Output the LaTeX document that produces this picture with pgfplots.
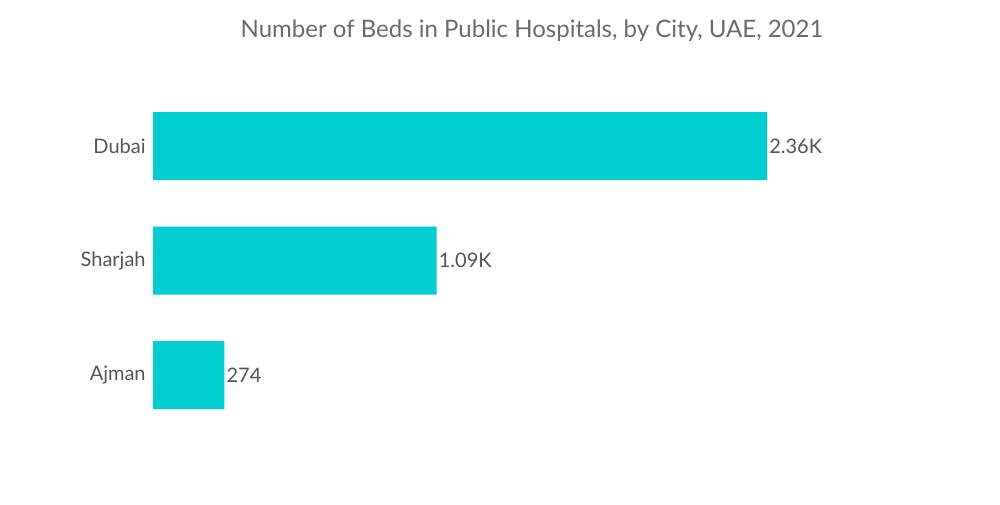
\documentclass[border=0pt]{standalone}
\usepackage{fontspec}
\setmainfont{Lato}
\usepackage{pgfplots}
\pgfplotsset{compat=1.18}
\definecolor{barcol}{HTML}{00CED1}
\definecolor{titlecol}{HTML}{6B6B6B}
\definecolor{labcol}{HTML}{555555}

\begin{document}
\begin{tikzpicture}[x=0.75pt,y=0.75pt]
\path[use as bounding box] (0,0) rectangle (1000,504);
\node[text=titlecol, font=\fontsize{18}{21}\selectfont] at (532,473) {Number of Beds in Public Hospitals, by City, UAE, 2021};
\begin{axis}[
    at={(114.75pt,53.8pt)}, anchor=south west,
    scale only axis,
    width=585.4pt, height=257.6pt,
    xbar, bar width=51pt,
    xmin=0, xmax=3000,
    ymin=-0.5, ymax=2.5,
    hide x axis,
    axis y line*=left,
    y axis line style={draw=none},
    major tick length=0pt,
    ytick={0,1,2},
    yticklabels={Ajman,Sharjah,Dubai},
    yticklabel style={font=\fontsize{15}{18}\selectfont, text=labcol, xshift=-2pt},
    point meta=explicit symbolic,
    nodes near coords,
    every node near coord/.append style={font=\fontsize{15}{18}\selectfont, text=labcol, anchor=west, inner sep=1.5pt},
]
\addplot[draw=none, fill=barcol] coordinates {
  (274,0) [274]
  (1090,1) [1.09K]
  (2360,2) [2.36K]
};
\end{axis}
\end{tikzpicture}
\end{document}
